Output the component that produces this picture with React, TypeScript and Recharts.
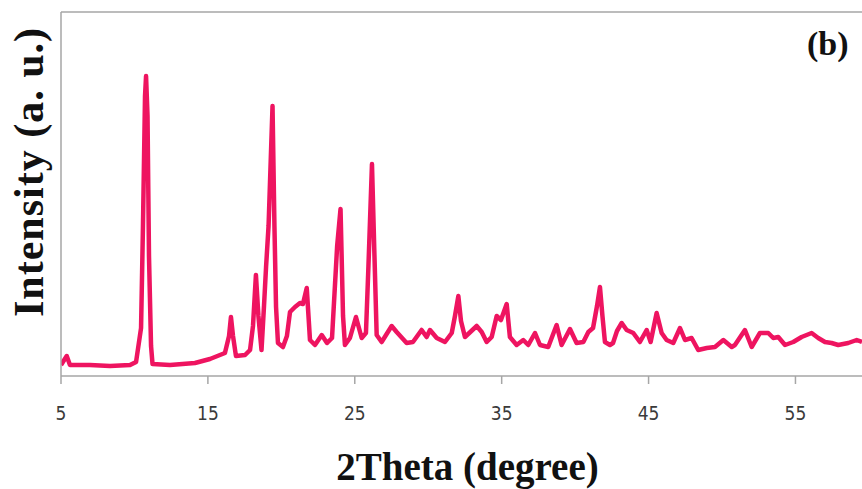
import { LineChart, Line, XAxis, YAxis, ReferenceLine } from 'recharts'

// 2θ positions (degree)
const theta = [
  5.0, 5.39, 5.61, 6.97, 8.34, 9.7, 10.11, 10.45, 10.58, 10.72, 10.79, 10.89, 10.99, 11.13, 11.23,
  12.42, 14.12, 15.14, 16.16, 16.44, 16.57, 16.71, 16.91, 17.53, 17.87, 18.07, 18.27, 18.44, 18.65,
  18.82, 18.96, 19.13, 19.4, 19.53, 19.64, 19.77, 20.11, 20.38, 20.59, 20.93, 21.27, 21.47, 21.73,
  21.95, 22.29, 22.75, 23.11, 23.45, 23.8, 24.03, 24.2, 24.33, 24.67, 25.08, 25.47, 25.76, 25.93,
  26.17, 26.34, 26.49, 26.83, 27.51, 27.85, 28.53, 28.96, 29.55, 29.89, 30.12, 30.58, 31.14, 31.6,
  31.82, 32.05, 32.23, 32.5, 33.3, 33.64, 33.98, 34.32, 34.66, 34.95, 35.34, 35.56, 36.02, 36.47,
  36.81, 37.27, 37.61, 38.17, 38.74, 39.08, 39.65, 40.1, 40.56, 40.9, 41.22, 41.49, 41.69, 41.86,
  42.03, 42.37, 42.58, 42.85, 43.17, 43.51, 43.96, 44.41, 44.87, 45.14, 45.55, 45.89, 46.23, 46.68,
  47.14, 47.48, 47.93, 48.38, 48.96, 49.52, 50.09, 50.66, 50.88, 51.56, 52.02, 52.58, 53.15, 53.49,
  53.83, 54.29, 54.85, 55.42, 56.1, 56.55, 57.01, 57.46, 57.91, 58.59, 59.17, 59.53,
]

// intensity (a. u.)
const intensity = [
  11, 20, 11, 11, 10, 11, 14, 48, 150, 280, 300, 260, 120, 30, 12,
  11, 13, 17, 23, 40, 59, 40, 20, 21, 26, 50, 101, 60, 26,
  70, 109, 150, 270, 150, 69, 33, 29, 40, 64, 69, 73, 72, 88,
  36, 31, 41, 33, 38, 130, 167, 60, 31, 38, 59, 38, 43, 110,
  212, 120, 41, 34, 50, 44, 33, 34, 46, 39, 46, 38, 34, 43,
  60, 80, 55, 39, 50, 44, 34, 39, 60, 56, 72, 39, 31, 36,
  31, 43, 31, 29, 51, 31, 47, 33, 34, 44, 48, 70, 89, 60,
  34, 31, 33, 45, 53, 46, 43, 34, 46, 34, 63, 43, 36, 33,
  48, 36, 38, 26, 28, 29, 36, 29, 31, 46, 29, 43, 43, 38,
  39, 31, 34, 39, 43, 38, 34, 33, 31, 33, 36, 34,
]

const xTicks = [5, 15, 25, 35, 45, 55]

const data = theta.map((t, i) => ({ theta: t, intensity: intensity[i] }))

const axisGray = '#a6a6a6'
const serif = "'Liberation Serif', 'Times New Roman', serif"

export default function App() {
  return (
    <div style={{ position: 'absolute', left: 0, top: 0, width: 862, height: 489, background: '#fff' }}>
      <style>{'html,body{margin:0;padding:0;overflow:hidden}'}</style>
      <LineChart width={862} height={489} data={data} margin={{ top: 12, right: 0, left: 0, bottom: 0 }}>
        <XAxis
          dataKey="theta"
          type="number"
          domain={[5, 59.53]}
          ticks={xTicks}
          allowDataOverflow
          height={113}
          stroke={axisGray}
          strokeWidth={1.5}
          tickSize={8}
          tickMargin={23}
          tick={{ fill: '#3a3a3a', fontSize: 19, fontFamily: "'DejaVu Sans Condensed', 'Liberation Sans', sans-serif" }}
          label={({ viewBox }: any) => (
            <text
              x={viewBox.x + viewBox.width / 2 + 6}
              y={viewBox.y + 90}
              textAnchor="middle"
              dominantBaseline="central"
              fontFamily={serif}
              fontWeight="bold"
              fontSize={39}
              fill="#111"
            >
              2Theta (degree)
            </text>
          )}
        />
        <YAxis
          type="number"
          domain={[0, 364]}
          width={61}
          tick={false}
          tickLine={false}
          stroke={axisGray}
          strokeWidth={1.5}
          label={({ viewBox }: any) => (
            <text
              transform={`translate(${viewBox.x + 29}, ${viewBox.y + viewBox.height / 2 - 22}) rotate(-90)`}
              textAnchor="middle"
              dominantBaseline="central"
              fontFamily={serif}
              fontWeight="bold"
              fontSize={42}
              letterSpacing={1}
              fill="#111"
            >
              Intensity (a. u.)
            </text>
          )}
        />
        <ReferenceLine y={364} stroke={axisGray} strokeWidth={1.5} />
        <Line
          type="linear"
          dataKey="intensity"
          stroke="#ee1460"
          strokeWidth={4.5}
          strokeLinejoin="round"
          dot={false}
          isAnimationActive={false}
        />
      </LineChart>
      <div
        style={{
          position: 'absolute',
          left: 807,
          top: 25,
          fontFamily: serif,
          fontWeight: 'bold',
          fontSize: 34,
          lineHeight: '38px',
          color: '#111',
        }}
      >
        (b)
      </div>
    </div>
  )
}
